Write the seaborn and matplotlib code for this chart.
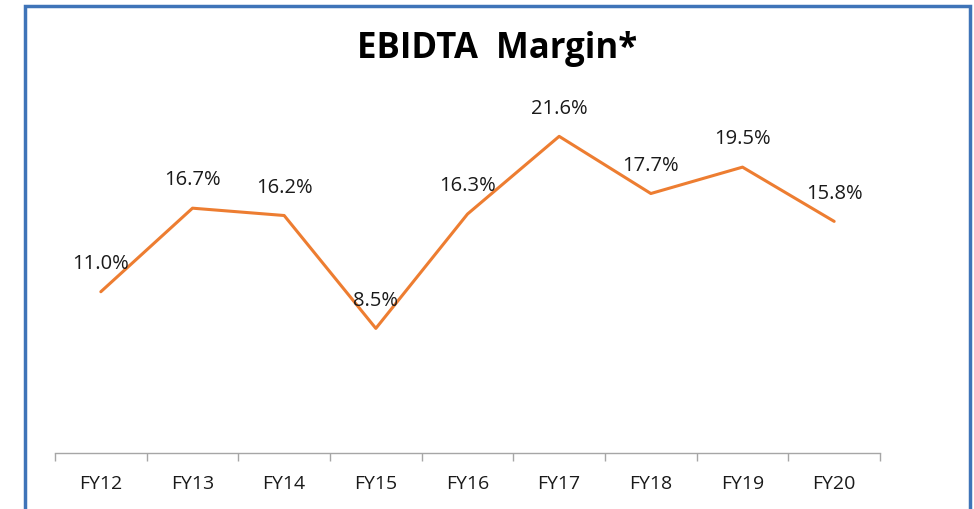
import numpy as np
import pandas as pd
import matplotlib
matplotlib.use("Agg")
import matplotlib.pyplot as plt
import seaborn as sns
from matplotlib.patches import Rectangle

# data
years = ["FY12", "FY13", "FY14", "FY15", "FY16", "FY17", "FY18", "FY19", "FY20"]
margin = [11.0, 16.7, 16.2, 8.5, 16.3, 21.6, 17.7, 19.5, 15.8]

df = pd.DataFrame({"year": years, "margin": margin})

sns.set_style("white")
plt.rcParams["font.family"] = ["Open Sans", "DejaVu Sans"]

fig = plt.figure(figsize=(9.74, 5.09), dpi=100)
W, H = 974, 509
ax = fig.add_axes([55 / W, 1 - 453 / H, 825 / W, (453 - 86.5) / H])

sns.lineplot(data=df, x="year", y="margin", ax=ax, color="#ED7D31",
             linewidth=2.2, sort=False)

for i, v in enumerate(margin):
    ax.annotate(f"{v:.1f}%", (i, v), xytext=(0, 20), textcoords="offset points",
                ha="center", va="center", fontsize=14.5, color="#1a1a1a")

ax.set_xlim(-0.5, len(years) - 0.5)
ax.set_ylim(0, 25)
ax.set_xlabel("")
ax.set_ylabel("")
ax.set_yticks([])
ax.set_xticks(range(len(years)))
ax.set_xticklabels(years, fontsize=14, color="#1a1a1a")
ax.set_xticks(np.arange(-0.5, len(years)), minor=True)
ax.tick_params(axis="x", which="major", length=0, pad=16, bottom=True)
ax.tick_params(axis="x", which="minor", length=6, color="#A6A6A6", width=1,
               direction="out", bottom=True)
for s in ["top", "right", "left"]:
    ax.spines[s].set_visible(False)
ax.spines["bottom"].set_color("#A6A6A6")
ax.spines["bottom"].set_linewidth(1)

fig.text(497 / W, 1 - 49 / H, "EBIDTA  Margin*", ha="center", va="center",
         fontsize=25, fontweight="bold", color="black")

# blue frame around the chart (bottom edge runs off the image)
fig.patches.append(Rectangle((25 / W, -0.05), 945 / W, 1.05 - 6 / H,
                             transform=fig.transFigure, fill=False,
                             edgecolor="#3F74B8", linewidth=2.5))

fig.savefig("out.png", dpi=100)
